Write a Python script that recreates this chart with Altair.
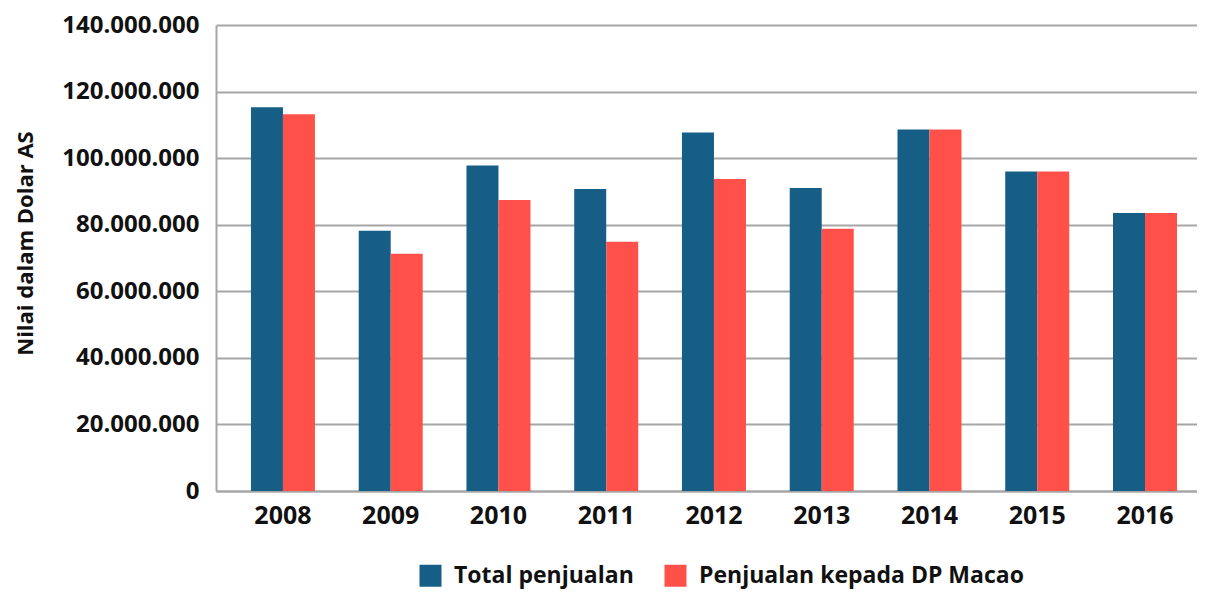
import altair as alt
import pandas as pd

years = ["2008", "2009", "2010", "2011", "2012", "2013", "2014", "2015", "2016"]
total = [115300000, 78200000, 97800000, 90700000, 107700000, 91000000, 108600000, 96000000, 83500000]
macao = [113200000, 71300000, 87400000, 74900000, 93700000, 78800000, 108600000, 96000000, 83500000]
series = ["Total penjualan", "Penjualan kepada DP Macao"]
colors = ["#175E87", "#FF514A"]

rows = []
for i, y in enumerate(years):
    rows.append({"year": y, "series": series[0], "value": total[i]})
    rows.append({"year": y, "series": series[1], "value": macao[i]})
df = pd.DataFrame(rows)

FONT = "Open Sans"

chart = alt.Chart(df).mark_bar().encode(
    x=alt.X("year:N", sort=years,
            scale=alt.Scale(paddingInner=0.406, paddingOuter=0.255, align=0.636),
            axis=alt.Axis(title=None, labelAngle=0, labelFontSize=25, labelFont=FONT,
                          labelFontWeight="bold", labelColor="#111111", labelPadding=12,
                          ticks=False, domainColor="#a6a6a6", domainWidth=2)),
    xOffset=alt.XOffset("series:N", sort=series),
    y=alt.Y("value:Q", scale=alt.Scale(domain=[0, 140000000], nice=False),
            axis=alt.Axis(title="Nilai dalam Dolar AS",
                          values=[0, 20000000, 40000000, 60000000, 80000000, 100000000, 120000000, 140000000],
                          labelExpr="replace(format(datum.value, ','), regexp(',', 'g'), '.')",
                          labelFontSize=24, labelFont=FONT, labelFontWeight="bold",
                          labelColor="#111111", labelPadding=17, ticks=False,
                          domainColor="#a6a6a6", domainWidth=2,
                          gridColor="#a6a6a6", gridWidth=2,
                          titleFont=FONT, titleFontSize=22, titleFontWeight="bold",
                          titleColor="#111111", titleAngle=-90, titleX=-191, titleY=218,
                          titleAlign="center", titleBaseline="middle")),
    color=alt.Color("series:N", sort=series,
                    scale=alt.Scale(domain=series, range=colors),
                    legend=alt.Legend(title=None, orient="none", legendX=203, legendY=539,
                                      direction="horizontal", symbolType="square",
                                      symbolSize=484, symbolStrokeWidth=0, symbolOpacity=1,
                                      labelFont=FONT, labelFontSize=23, labelFontWeight="bold",
                                      labelColor="#111111", labelOffset=12, columnPadding=30,
                                      labelLimit=500)),
).properties(
    width=981, height=466,
    autosize=alt.AutoSizeParams(type="none"),
    padding={"left": 208, "top": 17, "right": 0, "bottom": 100},
).configure_view(stroke=None)

chart.save("out.html", embed_options={"renderer": "svg", "actions": False})
